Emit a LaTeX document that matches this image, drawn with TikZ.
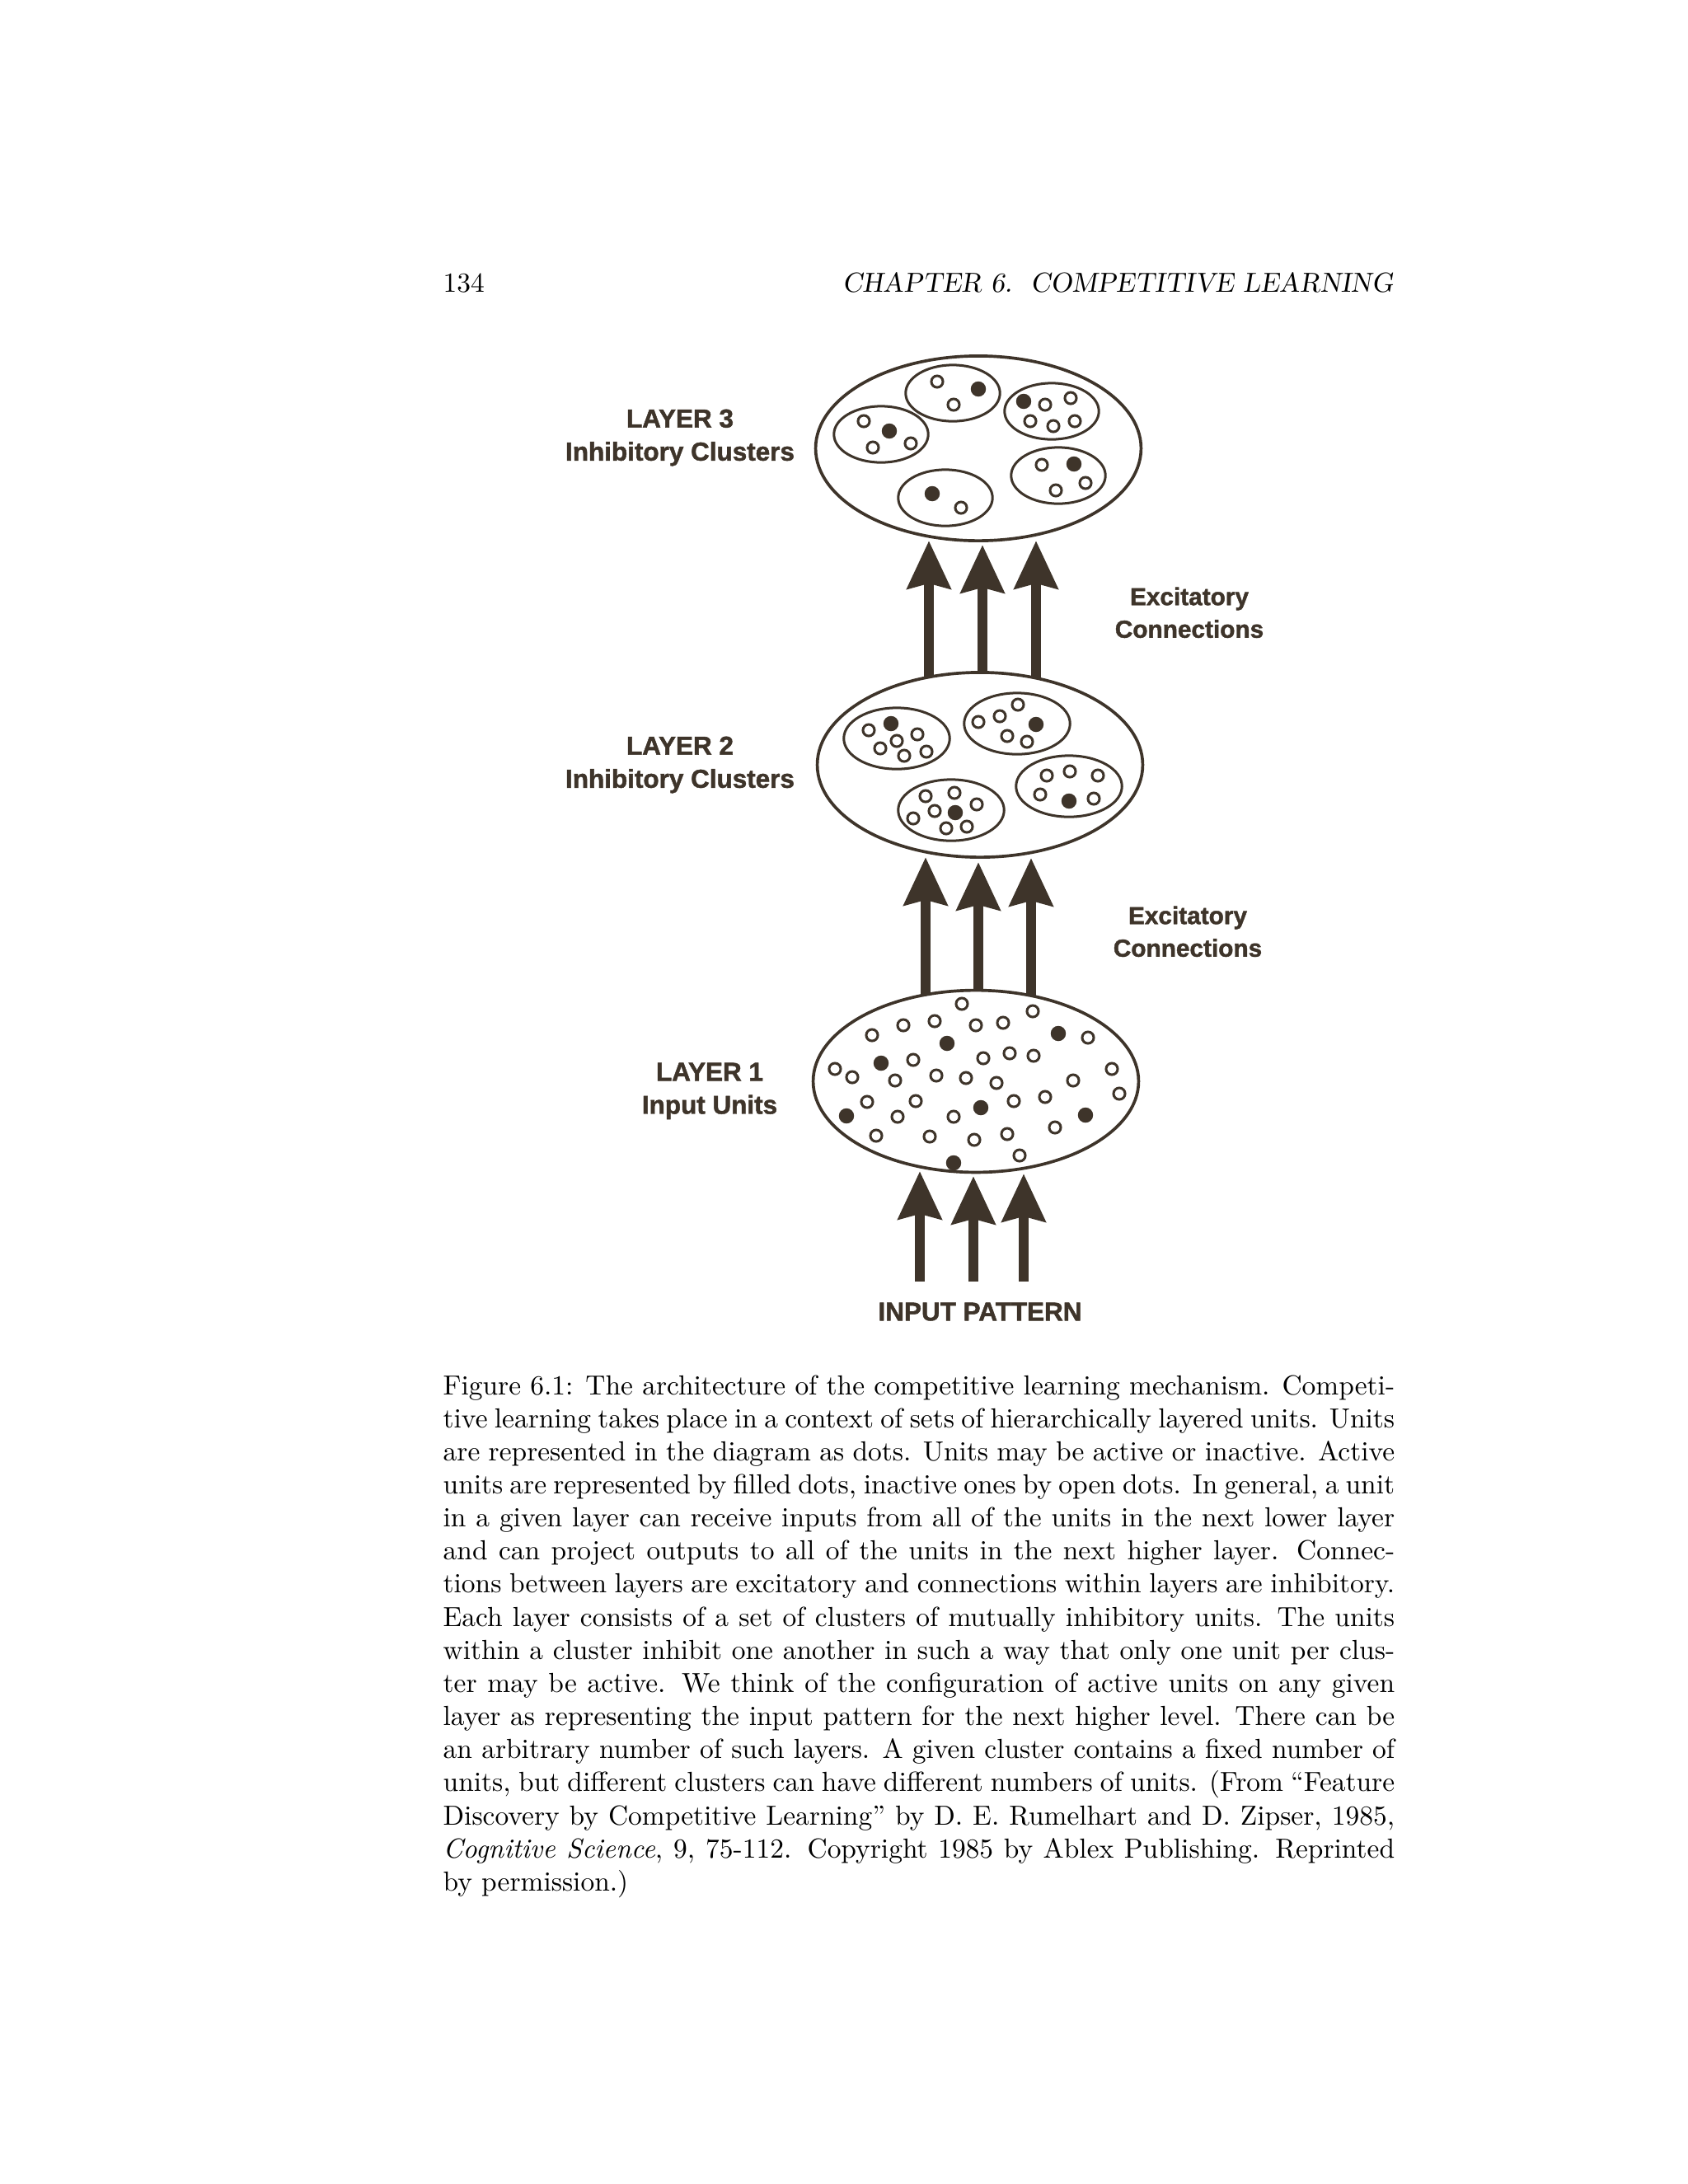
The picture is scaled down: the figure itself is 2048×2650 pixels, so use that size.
\documentclass[tikz,border=0pt]{standalone}
\usepackage{fontspec}
\newfontfamily\figfont{Liberation Sans}[BoldFeatures={FakeBold=1.5}]
\usepackage{tikz}
\usetikzlibrary{arrows.meta,shapes}
\definecolor{ink}{RGB}{62,52,42}
\tikzstyle{layerbox}=[ellipse,draw=ink,line width=1.1pt,minimum width=118pt,minimum height=67pt,inner sep=0pt]
\tikzstyle{cluster}=[ellipse,draw=ink,line width=0.9pt,inner sep=0pt]
\tikzstyle{small cluster}=[cluster,minimum width=34.2pt,minimum height=20.4pt]
\tikzstyle{big cluster}=[cluster,minimum width=38.4pt,minimum height=22.2pt]
\tikzstyle{unit}=[circle,draw=ink,line width=0.9pt,minimum size=4.2pt,inner sep=0pt]
\tikzstyle{active unit}=[unit,fill=ink,minimum size=4.6pt]
\tikzstyle{excite}=[draw=ink,line width=3.8pt,-{Stealth[length=17.3pt,width=15.5pt,inset=1.8pt]}]
\tikzstyle{layertext}=[font=\figfont\bfseries\fontsize{9.4}{12}\selectfont,text=ink,align=center,inner sep=0pt,anchor=north]
\tikzstyle{sidetext}=[layertext,font=\figfont\bfseries\fontsize{8.9}{11.8}\selectfont]

\begin{document}
\begin{tikzpicture}[x=0.29883pt,y=-0.29883pt]
    \useasboundingbox (0,0) rectangle (2048,2650);
    % Running head
    \node[anchor=base west,inner sep=0pt] (pageno) at (537,354) {134};
    \node[anchor=base east,inner sep=0pt,font=\slshape] (runhead) at (1691,354) {CHAPTER 6.\ \ COMPETITIVE LEARNING};

    % First we draw the three layers
    \node[layerbox] (L3) at (1187,544) {};
    \node[layerbox] (L2) at (1189,928) {};
    \node[layerbox,minimum height=66pt] (L1) at (1184,1312) {};

    % Clusters of layer 3 and layer 2
    \foreach \pos/\name in {{(1069,527)/c3a}, {(1156,477)/c3b}, {(1276,499)/c3c}, {(1284,577)/c3d}, {(1147,604)/c3e}}
        \node[small cluster] (\name) at \pos {};
    \foreach \pos/\name in {{(1088,896)/c2a}, {(1234,878)/c2b}, {(1154,983)/c2c}, {(1297,954)/c2d}}
        \node[big cluster] (\name) at \pos {};

    % Units: open dots are inactive, filled dots are active
    \foreach \pos [count=\i] in {(1048,511), (1059,543), (1105,538), (1137,463), (1157,491), (1268,491), (1299,483), (1250,511), (1278,517), (1304,511), (1264,564), (1281,595), (1317,586), (1166,616)}
        \node[unit] (u3-\i) at \pos {};
    \foreach \pos [count=\i] in {(1079,523), (1187,472), (1242,487), (1303,563), (1131,599)}
        \node[active unit] (a3-\i) at \pos {};

    \foreach \pos [count=\i] in {(1054,886), (1113,891), (1068,908), (1088,899), (1097,917), (1124,912), (1187,876), (1213,869), (1235,855), (1222,893), (1246,900), (1123,966), (1158,962), (1185,976), (1134,984), (1108,993), (1148,1005), (1173,1003), (1270,941), (1298,936), (1332,941), (1262,964), (1327,969)}
        \node[unit] (u2-\i) at \pos {};
    \foreach \pos [count=\i] in {(1081,878), (1257,879), (1159,986), (1297,972)}
        \node[active unit] (a2-\i) at \pos {};

    \foreach \pos [count=\i] in {(1167,1218), (1253,1227), (1096,1244), (1134,1239), (1184,1244), (1217,1241), (1058,1256), (1320,1259), (1108,1286), (1193,1284), (1225,1278), (1254,1281), (1013,1297), (1034,1307), (1086,1311), (1136,1305), (1172,1308), (1209,1314), (1302,1311), (1349,1297), (1358,1327), (1052,1337), (1111,1336), (1230,1336), (1268,1331), (1089,1355), (1157,1355), (1063,1378), (1128,1379), (1182,1383), (1222,1376), (1280,1368), (1237,1402)}
        \node[unit] (u1-\i) at \pos {};
    \foreach \pos [count=\i] in {(1149,1266), (1284,1254), (1069,1290), (1190,1344), (1027,1354), (1317,1353), (1157,1411)}
        \node[active unit] (a1-\i) at \pos {};

    % Ends of the excitatory connections
    \coordinate (s3a) at (1127,822);  \coordinate (e3a) at (1127,656);
    \coordinate (s3b) at (1192,817);  \coordinate (e3b) at (1192,661);
    \coordinate (s3c) at (1257,822);  \coordinate (e3c) at (1257,656);
    \coordinate (s2a) at (1123,1207); \coordinate (e2a) at (1123,1040);
    \coordinate (s2b) at (1187,1202); \coordinate (e2b) at (1187,1046);
    \coordinate (s2c) at (1251,1208); \coordinate (e2c) at (1251,1041);
    \coordinate (s1a) at (1116,1555); \coordinate (e1a) at (1116,1421);
    \coordinate (s1b) at (1181,1555); \coordinate (e1b) at (1181,1427);
    \coordinate (s1c) at (1242,1555); \coordinate (e1c) at (1242,1424);

    % Connect the layers
    \path[excite] (s3a) -- (e3a);
    \path[excite] (s3b) -- (e3b);
    \path[excite] (s3c) -- (e3c);
    \path[excite] (s2a) -- (e2a);
    \path[excite] (s2b) -- (e2b);
    \path[excite] (s2c) -- (e2c);
    \path[excite] (s1a) -- (e1a);
    \path[excite] (s1b) -- (e1b);
    \path[excite] (s1c) -- (e1c);

    % Labels
    \node[layertext] (L3label) at (825,496) {LAYER 3\\Inhibitory Clusters};
    \node[layertext] (L2label) at (825,893) {LAYER 2\\Inhibitory Clusters};
    \node[layertext] (L1label) at (861,1289) {LAYER 1\\Input Units};
    \node[sidetext] (x32) at (1443,712) {Excitatory\\Connections};
    \node[sidetext] (x21) at (1441,1099) {Excitatory\\Connections};
    \node[layertext] (inp) at (1189,1580) {INPUT PATTERN};

    % Caption
    \node[anchor=base west,inner sep=0pt,text width=345pt,align=justify] (caption) at (537,1692) {Figure 6.1: The architecture of the competitive learning mechanism. Competi-\linebreak tive learning takes place in a context of sets of hierarchically layered units. Units\linebreak are represented in the diagram as dots. Units may be active or inactive. Active\linebreak units are represented by filled dots, inactive ones by open dots. In general, a unit\linebreak in a given layer can receive inputs from all of the units in the next lower layer\linebreak and can project outputs to all of the units in the next higher layer. Connec-\linebreak tions between layers are excitatory and connections within layers are inhibitory.\linebreak Each layer consists of a set of clusters of mutually inhibitory units. The units\linebreak within a cluster inhibit one another in such a way that only one unit per clus-\linebreak ter may be active. We think of the configuration of active units on any given\linebreak layer as representing the input pattern for the next higher level. There can be\linebreak an arbitrary number of such layers. A given cluster contains a fixed number of\linebreak units, but different clusters can have different numbers of units. (From ``Feature\linebreak Discovery by Competitive Learning'' by D. E. Rumelhart and D. Zipser, 1985,\linebreak \textit{Cognitive Science}, 9, 75-112. Copyright 1985 by Ablex Publishing. Reprinted\linebreak by permission.)};
\end{tikzpicture}
\end{document}
